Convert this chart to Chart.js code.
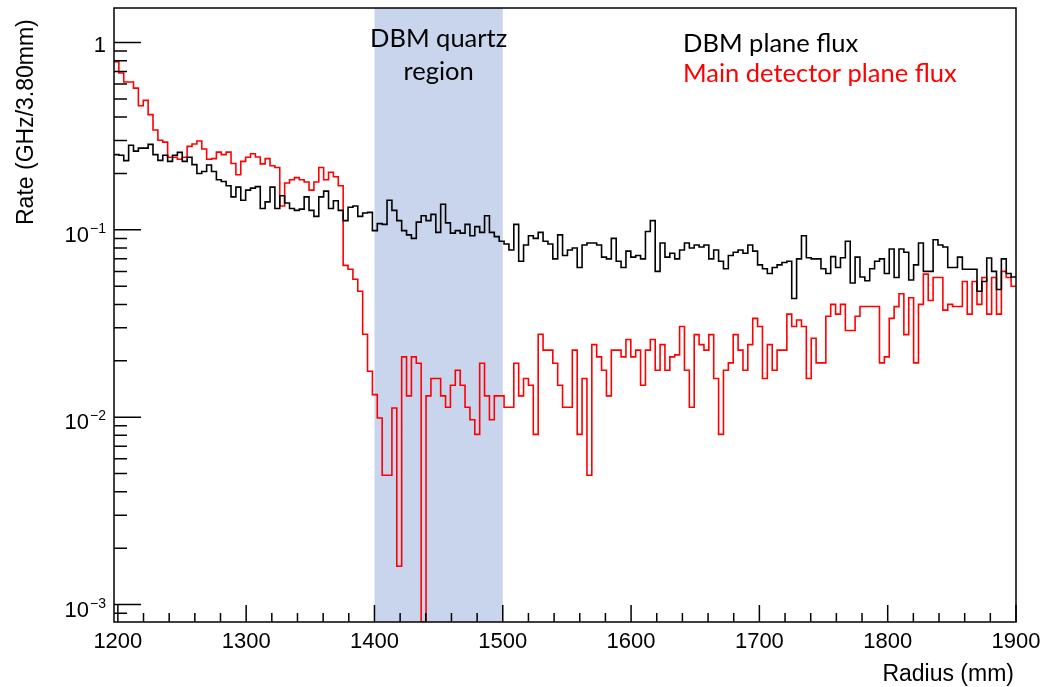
<!DOCTYPE html>
<html>
<head>
<meta charset="utf-8">
<script src="https://cdn.jsdelivr.net/npm/chart.js@4.4.1/dist/chart.umd.min.js"></script>
<style>
  html, body { margin: 0; padding: 0; background: #fff; }
  canvas { display: block; }
</style>
</head>
<body>
<canvas id="fluxChart" width="1043" height="687"></canvas>
<script>
// histogram binning (mm)
const binLow = 1197;
const binWidth = 3.8;

// axis ranges
const xMin = 1197, xMax = 1900;
const yMin = 0.000807, yMax = 1.528;

// shaded DBM quartz region (mm)
const quartzRegion = [1400, 1500];

// DBM plane flux, GHz per 3.80 mm bin
const dbmFlux = [
  0.252, 0.250, 0.234, 0.283, 0.263, 0.273, 0.273, 0.286, 0.252, 0.235,
  0.250, 0.232, 0.250, 0.259, 0.232, 0.244, 0.223, 0.200, 0.205, 0.222,
  0.205, 0.185, 0.181, 0.172, 0.150, 0.169, 0.144, 0.163, 0.167, 0.170,
  0.130, 0.141, 0.169, 0.130, 0.152, 0.139, 0.130, 0.127, 0.129, 0.150,
  0.127, 0.118, 0.150, 0.161, 0.130, 0.143, 0.127, 0.112, 0.132, 0.134,
  0.118, 0.123, 0.124, 0.099, 0.108, 0.107, 0.144, 0.127, 0.112, 0.099,
  0.094, 0.090, 0.110, 0.119, 0.112, 0.121, 0.097, 0.137, 0.109, 0.096,
  0.099, 0.096, 0.107, 0.093, 0.104, 0.097, 0.119, 0.097, 0.092, 0.087,
  0.084, 0.078, 0.107, 0.068, 0.083, 0.093, 0.090, 0.097, 0.087, 0.084,
  0.070, 0.094, 0.073, 0.078, 0.080, 0.063, 0.083, 0.085, 0.085, 0.083,
  0.0715, 0.070, 0.090, 0.068, 0.063, 0.077, 0.0715, 0.073, 0.070, 0.098,
  0.112, 0.060, 0.085, 0.0715, 0.075, 0.070, 0.078, 0.085, 0.080, 0.083,
  0.081, 0.083, 0.070, 0.078, 0.068, 0.062, 0.073, 0.076, 0.078, 0.075,
  0.083, 0.077, 0.065, 0.062, 0.0585, 0.063, 0.065, 0.067, 0.068, 0.043,
  0.070, 0.093, 0.071, 0.070, 0.070, 0.062, 0.0585, 0.072, 0.063, 0.071,
  0.087, 0.052, 0.0715, 0.056, 0.0535, 0.062, 0.068, 0.070, 0.0585, 0.079,
  0.0557, 0.079, 0.076, 0.054, 0.065, 0.085, 0.060, 0.060, 0.0885, 0.083,
  0.081, 0.063, 0.063, 0.0715, 0.0616, 0.0616, 0.0616, 0.047, 0.053, 0.0707,
  0.060, 0.048, 0.070, 0.0585, 0.056
];

// main detector plane flux, GHz per 3.80 mm bin (0 = empty bin)
const mainFlux = [
  0.79, 0.687, 0.615, 0.615, 0.571, 0.460, 0.491, 0.412, 0.341, 0.301,
  0.294, 0.244, 0.244, 0.238, 0.244, 0.279, 0.287, 0.298, 0.270, 0.238,
  0.240, 0.260, 0.252, 0.260, 0.226, 0.197, 0.232, 0.244, 0.255, 0.245,
  0.225, 0.240, 0.220, 0.215, 0.134, 0.178, 0.185, 0.190, 0.185, 0.180,
  0.163, 0.180, 0.215, 0.185, 0.203, 0.192, 0.172, 0.0646, 0.0616, 0.0545,
  0.047, 0.0277, 0.0176, 0.0132, 0.0099, 0.0049, 0.0049, 0.0112, 0.0016, 0.021,
  0.013, 0.021, 0.0194, 0, 0.013, 0.0161, 0.0161, 0.013, 0.0113, 0.0148,
  0.0178, 0.0148, 0.0113, 0.0097, 0.0081, 0.0194, 0.013, 0.0097, 0.013, 0.013,
  0.0113, 0.0113, 0.0194, 0.013, 0.0161, 0.0148, 0.0081, 0.0277, 0.0228, 0.0228,
  0.0194, 0.0148, 0.0113, 0.0113, 0.0228, 0.0081, 0.0161, 0.0049, 0.0244, 0.0210,
  0.0178, 0.0130, 0.0228, 0.0228, 0.0210, 0.0260, 0.0210, 0.0228, 0.0148, 0.0228,
  0.0260, 0.0178, 0.0244, 0.0178, 0.0210, 0.0215, 0.0305, 0.0178, 0.0113, 0.0276,
  0.0244, 0.0228, 0.0276, 0.0161, 0.0081, 0.0178, 0.0195, 0.0276, 0.0228, 0.0178,
  0.0244, 0.0337, 0.0305, 0.0161, 0.0244, 0.0178, 0.0228, 0.0228, 0.0355, 0.0305,
  0.033, 0.0305, 0.0161, 0.0264, 0.0195, 0.0195, 0.0346, 0.040, 0.0355, 0.040,
  0.029, 0.029, 0.0346, 0.039, 0.039, 0.039, 0.039, 0.0195, 0.021, 0.0337,
  0.0389, 0.0456, 0.0276, 0.0434, 0.0195, 0.040, 0.058, 0.042, 0.0557, 0.0557,
  0.0373, 0.040, 0.039, 0.039, 0.053, 0.0355, 0.053, 0.040, 0.0557, 0.0355,
  0.0557, 0.0355, 0.060, 0.0557, 0.050
];

const labels = ['DBM plane flux', 'Main detector plane flux'];
const regionText = ['DBM quartz', 'region'];

// histogram -> step points at left bin edges, plus closing right edge
function toSteps(values) {
    const pts = values.map((v, i) => ({x: binLow + i * binWidth, y: v > 0 ? v : yMin}));
    pts.push({x: binLow + values.length * binWidth, y: pts[pts.length - 1].y});
    return pts;
}

const decorPlugin = {
    id: 'decor',
    beforeDatasetsDraw(chart) {
        const {ctx, chartArea, scales} = chart;
        const x0 = scales.x.getPixelForValue(quartzRegion[0]);
        const x1 = scales.x.getPixelForValue(quartzRegion[1]);
        ctx.save();
        ctx.fillStyle = '#c9d5ec';
        ctx.fillRect(x0, chartArea.top, x1 - x0, chartArea.bottom - chartArea.top);
        ctx.fillStyle = '#000';
        ctx.font = '25.5px Lato';
        ctx.textAlign = 'center';
        ctx.textBaseline = 'middle';
        ctx.fillText(regionText[0], (x0 + x1) / 2, 39);
        ctx.fillText(regionText[1], (x0 + x1) / 2, 72);
        ctx.restore();
    },
    afterDatasetsDraw(chart) {
        const {ctx, chartArea, scales} = chart;
        const {left, right, top, bottom} = chartArea;
        ctx.save();
        ctx.strokeStyle = '#000';
        ctx.lineWidth = 1.5;
        ctx.strokeRect(left, top, right - left, bottom - top);
        ctx.beginPath();
        // x ticks, pointing up into the frame
        for (let v = 1200; v <= xMax; v += 20) {
            const px = scales.x.getPixelForValue(v);
            const len = v % 100 === 0 ? 17 : 9;
            ctx.moveTo(px, bottom);
            ctx.lineTo(px, bottom - len);
        }
        // y ticks (log), pointing right into the frame
        for (let e = -4; e <= 0; e++) {
            for (let m = 1; m <= 9; m++) {
                const v = m * Math.pow(10, e);
                if (v < yMin || v > yMax) continue;
                const py = scales.y.getPixelForValue(v);
                ctx.moveTo(left, py);
                ctx.lineTo(left + (m === 1 ? 27 : 13), py);
            }
        }
        ctx.stroke();

        // y decade labels: "1", then 10 with a raised exponent
        ctx.fillStyle = '#000';
        ctx.textBaseline = 'alphabetic';
        ctx.textAlign = 'right';
        const labelRight = left - 8;
        for (let e = -3; e <= 0; e++) {
            const py = scales.y.getPixelForValue(Math.pow(10, e));
            if (e === 0) {
                ctx.font = '22px "Liberation Sans"';
                ctx.fillText('1', labelRight, py + 10);
                continue;
            }
            ctx.font = '14px "Liberation Sans"';
            const sup = '\u2212' + String(-e);
            const supW = ctx.measureText(sup).width;
            ctx.fillText(sup, labelRight, py + 3);
            ctx.font = '22px "Liberation Sans"';
            ctx.fillText('10', labelRight - supW - 1, py + 12);
        }

        // legend text
        ctx.font = '25.5px Lato';
        ctx.textAlign = 'left';
        ctx.textBaseline = 'middle';
        chart.data.datasets.forEach((ds, i) => {
            ctx.fillStyle = ds.borderColor;
            ctx.fillText(ds.label, 683, 44 + i * 30);
        });

        // axis titles
        ctx.fillStyle = '#000';
        ctx.font = '23px "Liberation Sans"';
        ctx.textAlign = 'right';
        ctx.fillText('Radius (mm)', 1014, 675);
        ctx.translate(27, 225);
        ctx.rotate(-Math.PI / 2);
        ctx.textAlign = 'left';
        ctx.fillText('Rate (GHz/3.80mm)', 0, 0);
        ctx.restore();
    }
};

const ctx = document.getElementById('fluxChart').getContext('2d');
new Chart(ctx, {
    type: 'line',
    data: {
        datasets: [
            {
                label: labels[0],
                data: toSteps(dbmFlux),
                borderColor: '#000000',
                borderWidth: 1.6,
                stepped: 'before',
                pointRadius: 0,
                fill: false
            },
            {
                label: labels[1],
                data: toSteps(mainFlux),
                borderColor: '#ff0000',
                borderWidth: 1.6,
                stepped: 'before',
                pointRadius: 0,
                fill: false
            }
        ]
    },
    options: {
        responsive: false,
        animation: false,
        layout: {padding: {top: 8, right: 27, left: 0, bottom: 0}},
        plugins: {
            legend: {display: false},
            tooltip: {enabled: false}
        },
        scales: {
            x: {
                type: 'linear',
                min: xMin,
                max: xMax,
                afterFit(scale) {
                    scale.height = 65;
                    scale.paddingLeft = 0;
                    scale.paddingRight = 0;
                },
                grid: {display: false, drawTicks: false},
                border: {display: false},
                ticks: {
                    stepSize: 20,
                    includeBounds: false,
                    autoSkip: false,
                    maxRotation: 0,
                    padding: 7,
                    color: '#000',
                    font: {family: 'Liberation Sans', size: 22},
                    callback: v => (v % 100 === 0 ? String(v) : '')
                }
            },
            y: {
                type: 'logarithmic',
                min: yMin,
                max: yMax,
                afterFit(scale) {
                    scale.width = 114;
                    scale.paddingTop = 0;
                    scale.paddingBottom = 0;
                },
                grid: {display: false, drawTicks: false},
                border: {display: false},
                ticks: {display: false}
            }
        }
    },
    plugins: [decorPlugin]
});
</script>
</body>
</html>
